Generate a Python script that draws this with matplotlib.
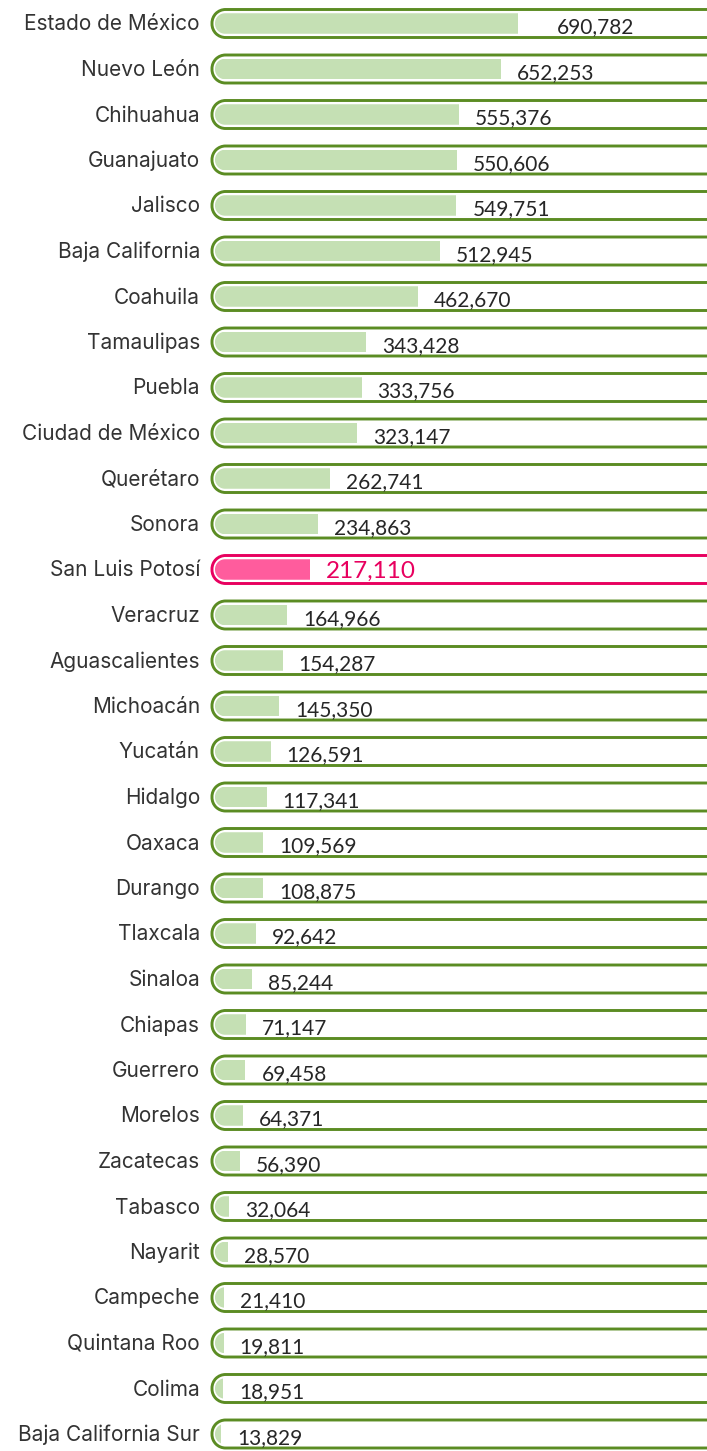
import numpy as np
import matplotlib
matplotlib.use("Agg")
import matplotlib.pyplot as plt
from matplotlib.path import Path
from matplotlib.patches import PathPatch

states = ["Estado de México", "Nuevo León", "Chihuahua", "Guanajuato", "Jalisco",
          "Baja California", "Coahuila", "Tamaulipas", "Puebla", "Ciudad de México",
          "Querétaro", "Sonora", "San Luis Potosí", "Veracruz", "Aguascalientes",
          "Michoacán", "Yucatán", "Hidalgo", "Oaxaca", "Durango", "Tlaxcala",
          "Sinaloa", "Chiapas", "Guerrero", "Morelos", "Zacatecas", "Tabasco",
          "Nayarit", "Campeche", "Quintana Roo", "Colima", "Baja California Sur"]
values = [690782, 652253, 555376, 550606, 549751, 512945, 462670, 343428, 333756,
          323147, 262741, 234863, 217110, 164966, 154287, 145350, 126591, 117341,
          109569, 108875, 92642, 85244, 71147, 69458, 64371, 56390, 32064, 28570,
          21410, 19811, 18951, 13829]
highlight = "San Luis Potosí"

W, H = 707, 1451
x0_px = 215          # pixel where value 0 sits
px_per_unit = 0.000439
row_px = 45.5
top_px = 23.5

def vx(px):
    # pixel x -> data value
    return (px - x0_px) / px_per_unit

def ry(px):
    # pixel height -> row units
    return px / row_px

fig = plt.figure(figsize=(W / 100, H / 100), dpi=100)
ax = fig.add_axes([0, 0, 1, 1])
ax.set_xlim(vx(0), vx(W))
ax.set_ylim((H - top_px) / row_px, -top_px / row_px)
ax.axis("off")

def capsule(xl, xr, yc, h_px, r_px, **kw):
    # rounded rectangle with circular corners (r_px in screen pixels)
    rx, rr = r_px / px_per_unit, ry(r_px)
    hh = ry(h_px) / 2
    corners = [(xr - rx, yc + hh - rr, 0, 90), (xl + rx, yc + hh - rr, 90, 180),
               (xl + rx, yc - hh + rr, 180, 270), (xr - rx, yc - hh + rr, 270, 360)]
    verts, codes = [], []
    for k, (cx, cy, a0, a1) in enumerate(corners):
        arc = Path.arc(a0, a1)
        v = arc.vertices * [rx, rr] + [cx, cy]
        c = list(arc.codes)
        if k > 0:
            c[0] = Path.LINETO
        verts.extend(v)
        codes.extend(c)
    verts.append(verts[0])
    codes.append(Path.CLOSEPOLY)
    return PathPatch(Path(np.array(verts), codes), **kw)

green_line, green_fill = "#5b8c23", "#c5e0b4"
pink_line, pink_fill = "#e8005f", "#ff5c9d"

bars = ax.barh(range(len(states)), values, height=ry(20.5), left=0,
               color=green_fill, edgecolor="none", zorder=2)

for i, (name, v, bar) in enumerate(zip(states, values, bars)):
    hi = name == highlight
    lc = pink_line if hi else green_line
    cap = capsule(vx(212), vx(740), i, 28, 13.5,
                  facecolor="white", edgecolor=lc, lw=2.1, zorder=1)
    ax.add_patch(cap)
    inner = capsule(0, vx(760), i, 20.5, 10, facecolor="none", edgecolor="none")
    ax.add_patch(inner)
    bar.set_clip_path(inner)
    if hi:
        bar.set_facecolor(pink_fill)

    ax.text(vx(200), i + ry(1), name, ha="right", va="center",
            fontsize=15, family=["Inter", "DejaVu Sans"], color="#333333")

    off = 39 if i == 0 else 16
    if hi:
        ax.text(v + vx(x0_px + 16), i + ry(2), f"{v:,}", ha="left", va="center",
                fontsize=17.5, family=["Lato", "DejaVu Sans"], color=pink_line)
    else:
        ax.text(v + vx(x0_px + off), i + ry(4), f"{v:,}", ha="left", va="center",
                fontsize=15, family=["Lato", "DejaVu Sans"], color="#262626")

fig.savefig("out.png", dpi=100)
